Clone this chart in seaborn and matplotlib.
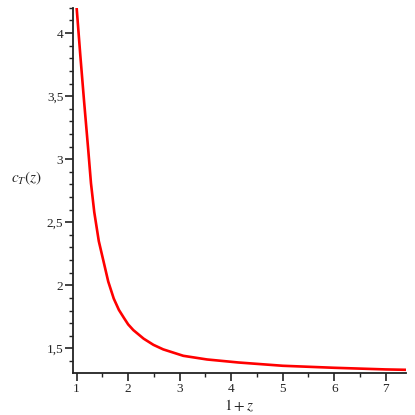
import matplotlib
matplotlib.use("Agg")
import matplotlib.pyplot as plt
import seaborn as sns
import pandas as pd
from matplotlib.ticker import MultipleLocator, FuncFormatter

# Values
x_vals = [1.00, 1.07, 1.142, 1.225, 1.278, 1.342, 1.43, 1.516, 1.613, 1.72, 1.82, 1.92,
          2.00, 2.10, 2.30, 2.49, 2.68, 3.07, 3.53, 4.14, 5.00, 6.00, 7.00, 7.39]
y_vals = [4.20, 3.83, 3.47, 3.074, 2.81, 2.58, 2.35, 2.20, 2.03, 1.895, 1.805, 1.74,
          1.69, 1.645, 1.577, 1.528, 1.492, 1.441, 1.412, 1.388, 1.362, 1.346, 1.333, 1.330]
x_ticks = [1, 2, 3, 4, 5, 6, 7]
y_ticks = [1.5, 2, 2.5, 3, 3.5, 4]

sns.set_style("ticks")
plt.rcParams['font.family'] = ['Liberation Serif', 'DejaVu Serif']
plt.rcParams['mathtext.fontset'] = 'stix'

df = pd.DataFrame({"x": x_vals, "y": y_vals})

fig = plt.figure(figsize=(4.15, 4.15), dpi=100)
ax = fig.add_axes([0.176, 0.101, 0.802, 0.880])
sns.lineplot(data=df, x="x", y="y", ax=ax, color="#ff0000", linewidth=1.9)

ax.set_xlim(0.93, 7.39)
ax.set_ylim(1.304, 4.2)
ax.set_xticks(x_ticks)
ax.set_yticks(y_ticks)
ax.xaxis.set_minor_locator(MultipleLocator(0.5))
ax.yaxis.set_minor_locator(MultipleLocator(0.1))

def fmt(v, pos):
    s = ("%g" % v)
    return s.replace(".", ",")
ax.xaxis.set_major_formatter(FuncFormatter(fmt))
ax.yaxis.set_major_formatter(FuncFormatter(fmt))

sns.despine(ax=ax)
for sp in ["left", "bottom"]:
    ax.spines[sp].set_linewidth(1.3)
    ax.spines[sp].set_color("#222222")
ax.tick_params(which="major", length=6, width=1.2, labelsize=9.5, color="#222222", pad=1)
ax.tick_params(which="minor", length=3, width=1.0, color="#222222")

ax.set_xlabel("$1+z$", fontsize=11, labelpad=2)
ax.set_ylabel("$c_T(z)$", fontsize=11, rotation=0, labelpad=0)
ax.yaxis.set_label_coords(-0.14, 0.51)

fig.savefig("out.png", dpi=100)
